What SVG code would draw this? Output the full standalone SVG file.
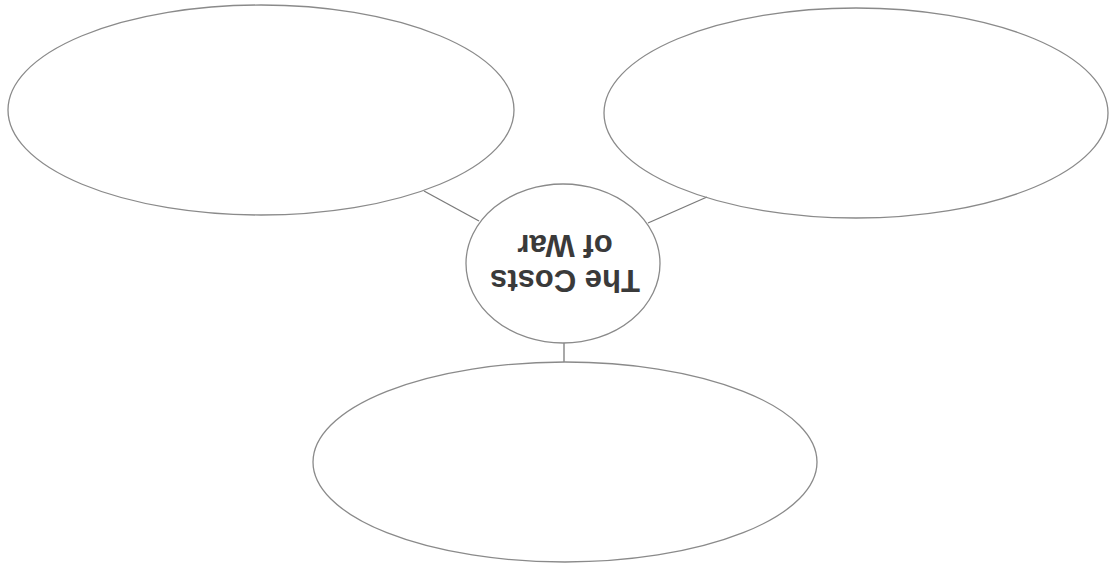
<svg xmlns="http://www.w3.org/2000/svg" width="1110" height="571" viewBox="0 0 1110 571">
  <style>
    .shape { fill: none; stroke: #8a8a8a; stroke-width: 1.3; }
    .conn { stroke: #7a7a7a; stroke-width: 1.3; fill: none; }
    .label { font-family: "Liberation Sans", Arial, sans-serif; font-weight: bold; font-size: 31px; fill: #3a3a3a; text-anchor: middle; }
  </style>
  <rect width="1110" height="571" fill="#ffffff"/>
  <g id="connectors">
    <line class="conn" x1="424" y1="191" x2="479" y2="221"/>
    <line class="conn" x1="648" y1="223" x2="707" y2="197"/>
    <line class="conn" x1="564" y1="343" x2="564" y2="362"/>
  </g>
  <g id="node-left">
    <ellipse class="shape" cx="261" cy="110" rx="253" ry="105"/>
  </g>
  <g id="node-right">
    <ellipse class="shape" cx="856" cy="113" rx="252" ry="105"/>
  </g>
  <g id="node-bottom">
    <ellipse class="shape" cx="565" cy="462" rx="252" ry="100"/>
  </g>
  <g id="node-center">
    <ellipse class="shape" cx="563" cy="263.5" rx="97" ry="79.5"/>
    <g transform="rotate(180 565 263)">
      <text class="label" x="565" y="256">The Costs</text>
      <text class="label" x="565" y="291">of War</text>
    </g>
  </g>
</svg>
